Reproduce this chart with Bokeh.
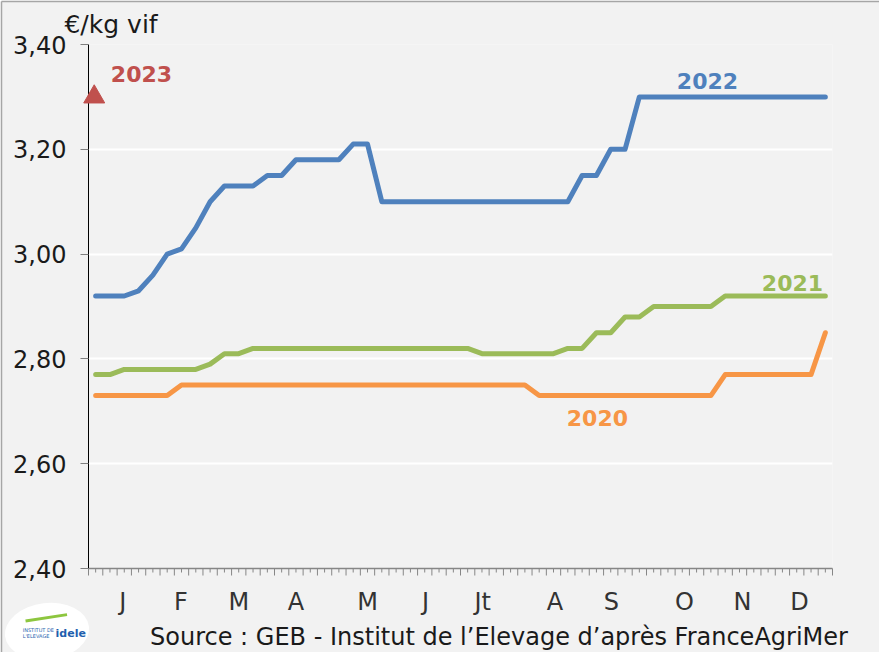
from bokeh.plotting import figure
from bokeh.models import Range1d, FixedTicker, LinearAxis, Label, Grid
from bokeh.core.properties import value
from bokeh.embed import file_html
from bokeh.resources import INLINE

# ---------------- data ----------------
weeks = list(range(1, 53))

price_2020 = [2.73, 2.73, 2.73, 2.73, 2.73, 2.73,
              2.75, 2.75, 2.75, 2.75, 2.75, 2.75, 2.75, 2.75, 2.75, 2.75,
              2.75, 2.75, 2.75, 2.75, 2.75, 2.75, 2.75, 2.75, 2.75, 2.75,
              2.75, 2.75, 2.75, 2.75, 2.75,
              2.73, 2.73, 2.73, 2.73, 2.73, 2.73, 2.73, 2.73, 2.73, 2.73,
              2.73, 2.73, 2.73,
              2.77, 2.77, 2.77, 2.77, 2.77, 2.77, 2.77,
              2.85]

price_2021 = [2.77, 2.77,
              2.78, 2.78, 2.78, 2.78, 2.78, 2.78,
              2.79,
              2.81, 2.81,
              2.82, 2.82, 2.82, 2.82, 2.82, 2.82, 2.82, 2.82, 2.82, 2.82,
              2.82, 2.82, 2.82, 2.82, 2.82, 2.82,
              2.81, 2.81, 2.81, 2.81, 2.81, 2.81,
              2.82, 2.82,
              2.85, 2.85,
              2.88, 2.88,
              2.90, 2.90, 2.90, 2.90, 2.90,
              2.92, 2.92, 2.92, 2.92, 2.92, 2.92, 2.92, 2.92]

price_2022 = [2.92, 2.92, 2.92, 2.93, 2.96, 3.00, 3.01, 3.05, 3.10,
              3.13, 3.13, 3.13, 3.15, 3.15,
              3.18, 3.18, 3.18, 3.18, 3.21, 3.21,
              3.10, 3.10, 3.10, 3.10, 3.10, 3.10, 3.10, 3.10, 3.10, 3.10,
              3.10, 3.10, 3.10, 3.10,
              3.15, 3.15, 3.20, 3.20,
              3.30, 3.30, 3.30, 3.30, 3.30, 3.30, 3.30, 3.30, 3.30, 3.30,
              3.30, 3.30, 3.30, 3.30]

weeks_2023 = [1]
price_2023 = [3.30]

y_ticks = [2.40, 2.60, 2.80, 3.00, 3.20, 3.40]
y_tick_labels = ["2,40", "2,60", "2,80", "3,00", "3,20", "3,40"]

month_labels = ["J", "F", "M", "A", "M", "J", "Jt", "A", "S", "O", "N", "D"]
month_pos = [2.4, 6.45, 10.5, 14.5, 19.5, 23.55, 27.55, 32.6, 36.55, 41.65, 45.7, 49.7]

unit_text = "€/kg vif"
source_text = "Source : GEB - Institut de l\u2019Elevage d\u2019apr\u00e8s FranceAgriMer"

# ---------------- styling ----------------
BG = "#f2f2f2"
FONT = "DejaVu Sans"
C2020 = "#f79646"
C2021 = "#9bbb59"
C2022 = "#4f81bd"
C2023 = "#c0504d"
AXIS_GREY = "#868686"
W, H = 879, 652
LEFT, RIGHT, TOP, BOTTOM = 88, 47, 44, 84
X0, X1, Y0, Y1 = 0, 52, 2.40, 3.40
PX = (Y1 - Y0) / (H - TOP - BOTTOM)        # one vertical pixel in data units
PXX = (X1 - X0) / (W - LEFT - RIGHT)       # one horizontal pixel in data units

p = figure(width=W, height=H,
           x_range=Range1d(X0, X1), y_range=Range1d(Y0, Y1),
           x_axis_type=None, y_axis_type=None,
           output_backend="svg", toolbar_location=None)
p.min_border_left = LEFT
p.min_border_right = RIGHT
p.min_border_top = TOP
p.min_border_bottom = BOTTOM
p.background_fill_color = BG
p.border_fill_color = BG
p.outline_line_color = None

# y axis
yticker = FixedTicker(ticks=y_ticks)
yaxis = LinearAxis(ticker=yticker,
                   major_label_overrides={t: l for t, l in zip(y_ticks, y_tick_labels)})
yaxis.axis_line_color = "black"
yaxis.axis_line_width = 1
yaxis.major_tick_line_color = "#7f7f7f"
yaxis.major_tick_out = 8
yaxis.major_tick_in = 0
yaxis.minor_tick_out = 0
yaxis.minor_tick_in = 0
yaxis.major_label_text_font = FONT
yaxis.major_label_text_font_size = "24px"
yaxis.major_label_text_color = "#1a1a1a"
yaxis.major_label_standoff = 14
p.add_layout(yaxis, "left")

p.add_layout(Grid(dimension=1, ticker=yticker, grid_line_color="white", grid_line_width=2))

# x axis (month labels, no tick marks of its own)
maxis = LinearAxis(ticker=FixedTicker(ticks=month_pos),
                   major_label_overrides={t: l for t, l in zip(month_pos, month_labels)})
maxis.axis_line_color = AXIS_GREY
maxis.axis_line_width = 1.5
maxis.major_tick_line_color = None
maxis.minor_tick_line_color = None
maxis.major_tick_out = 0
maxis.major_tick_in = 0
maxis.major_label_text_font = FONT
maxis.major_label_text_font_size = "24px"
maxis.major_label_text_color = "#333333"
maxis.major_label_standoff = 19
p.add_layout(maxis, "below")

# weekly tick marks: long at week boundaries, short at week centres
bounds = [w - 1 for w in weeks] + [52]
centres = [w - 0.5 for w in weeks]
p.segment(x0=bounds, y0=[Y0] * len(bounds), x1=bounds, y1=[Y0 - 7 * PX] * len(bounds),
          line_color=AXIS_GREY, line_width=1, level="overlay")
p.segment(x0=centres, y0=[Y0] * len(centres), x1=centres, y1=[Y0 - 4 * PX] * len(centres),
          line_color=AXIS_GREY, line_width=1, level="overlay")

# chart-area border (left and top edges of the canvas)
cx0 = X0 - (LEFT - 1) * PXX
cy1 = Y1 + (TOP - 1) * PX
cy0 = Y0 - BOTTOM * PX
cx1 = X1 + RIGHT * PXX
p.multi_line(xs=[[cx0, cx0], [cx0, cx1]], ys=[[cy0, cy1], [cy1, cy1]],
             line_color="#a6a6a6", line_width=1.5, level="overlay")

# series
xs = [w - 0.5 for w in weeks]
p.line(xs, price_2020, line_color=C2020, line_width=5, line_cap="round", line_join="round")
p.line(xs, price_2021, line_color=C2021, line_width=5, line_cap="round", line_join="round")
p.line(xs, price_2022, line_color=C2022, line_width=5, line_cap="round", line_join="round")
p.scatter([w - 0.6 for w in weeks_2023], price_2023, marker="triangle", size=21,
          fill_color=C2023, line_color=C2023, level="overlay")

def add_label(x, y, text, color, size="22px"):
    p.add_layout(Label(x=x, y=y, text=text, text_color=color, text_font=FONT,
                       text_font_size=size, text_font_style="bold",
                       text_align="center", text_baseline="middle"))

add_label(3.7, 3.343, "2023", C2023)
add_label(43.26, 3.331, "2022", C2022)
add_label(49.2, 2.944, "2021", C2021)
add_label(35.57, 2.688, "2020", C2020)

# logo approximation (white blob + idele text)
p.ellipse(x=[-2.9], y=[2.280], width=5.9, height=0.108, angle=0.12,
          fill_color="white", line_color=None, level="overlay")
p.segment(x0=[-4.4], y0=[2.300], x1=[-1.5], y1=[2.312], line_color="#8dc63f", line_width=3,
          level="overlay")
p.text(x=[-2.3], y=[2.276], text=["idele"], text_font=value(FONT), text_font_size="11px",
       text_font_style="bold", text_color="#1f5fae", text_align="left", text_baseline="middle",
       level="overlay")
p.text(x=[-4.6, -4.6], y=[2.283, 2.272], text=["INSTITUT DE", "L'ELEVAGE"],
       text_font=value(FONT), text_font_size="5px", text_color="#1f5fae",
       text_align="left", text_baseline="middle", level="overlay")

# unit and source texts
p.text(x=[-1.68], y=[3.438], text=[unit_text], text_font=value(FONT), text_font_size="25px",
       text_color="#1a1a1a", text_align="left", text_baseline="middle", level="overlay")
p.text(x=[4.3], y=[2.2685], text=[source_text], text_font=value(FONT), text_font_size="24px",
       text_color="#1a1a1a", text_align="left", text_baseline="middle", level="overlay")

open("out.html", "w").write(file_html(p, INLINE))
